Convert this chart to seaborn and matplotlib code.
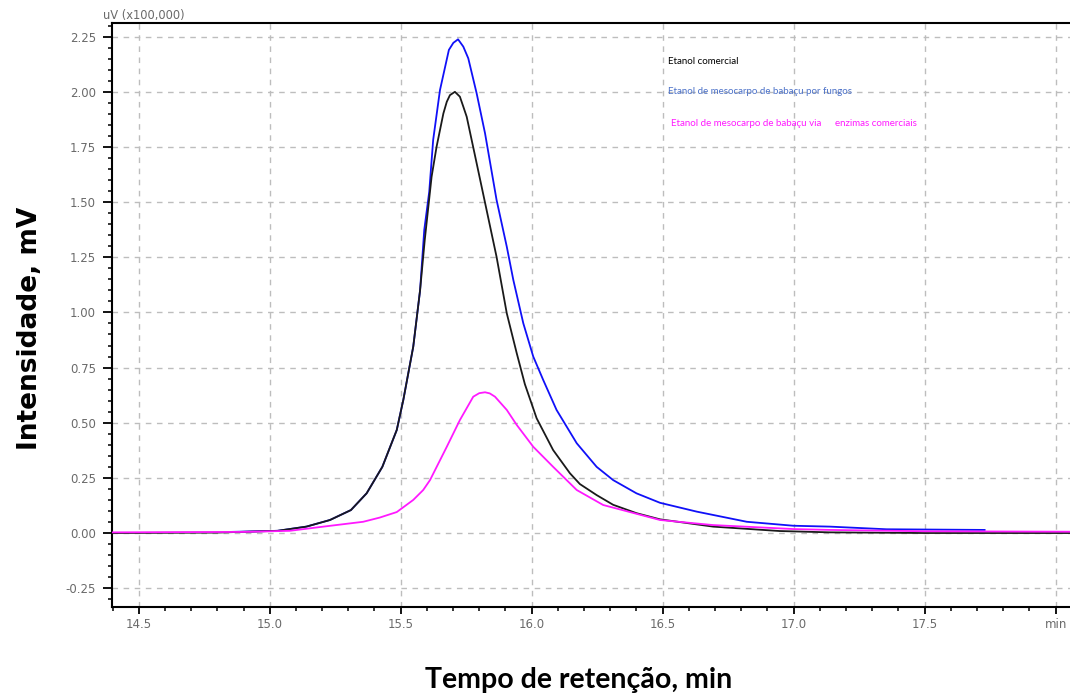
import numpy as np
import pandas as pd
import matplotlib
matplotlib.use("Agg")
import matplotlib.pyplot as plt
import seaborn as sns
from matplotlib.ticker import MultipleLocator, FixedLocator

# ---- data ----
black_name = "Etanol comercial"
blue_name = "Etanol de mesocarpo de babaçu por fungos"
mag_name = "Etanol de mesocarpo de babaçu via enzimas comerciais"

black_x = [14.40, 14.80, 15.03, 15.14, 15.23, 15.31, 15.37, 15.40, 15.43, 15.485, 15.51,
           15.548, 15.574, 15.592, 15.618, 15.637, 15.663, 15.676, 15.688, 15.707, 15.726,
           15.739, 15.752, 15.790, 15.809, 15.828, 15.866, 15.905, 15.943, 15.974, 16.019,
           16.082, 16.146, 16.184, 16.248, 16.311, 16.40, 16.49, 16.693, 16.947, 17.139,
           17.50, 18.055]
black_y = [0.0, 0.002, 0.01, 0.029, 0.059, 0.104, 0.18, 0.24, 0.30, 0.467, 0.603,
           0.845, 1.10, 1.33, 1.615, 1.751, 1.902, 1.955, 1.985, 2.00, 1.978,
           1.933, 1.887, 1.676, 1.570, 1.464, 1.252, 0.996, 0.815, 0.675, 0.520,
           0.376, 0.271, 0.222, 0.172, 0.128, 0.09, 0.062, 0.029, 0.009, 0.003,
           0.0, 0.0]

blue_x = [14.85, 15.03, 15.14, 15.23, 15.31, 15.37, 15.40, 15.43, 15.485, 15.51, 15.548,
          15.574, 15.590, 15.609, 15.624, 15.650, 15.684, 15.701, 15.719, 15.739, 15.758,
          15.790, 15.822, 15.866, 15.905, 15.930, 15.968, 16.006, 16.044, 16.095, 16.172,
          16.248, 16.311, 16.40, 16.49, 16.63, 16.821, 16.999, 17.139, 17.355, 17.73]
blue_y = [0.005, 0.01, 0.029, 0.059, 0.104, 0.18, 0.24, 0.30, 0.467, 0.603, 0.845,
          1.10, 1.374, 1.547, 1.782, 2.008, 2.19, 2.222, 2.238, 2.205, 2.152,
          1.993, 1.812, 1.51, 1.298, 1.147, 0.951, 0.80, 0.694, 0.558, 0.407,
          0.30, 0.24, 0.18, 0.137, 0.097, 0.051, 0.033, 0.029, 0.017, 0.014]

mag_x = [14.40, 14.90, 15.077, 15.205, 15.357, 15.42, 15.485, 15.548, 15.586, 15.612,
         15.676, 15.726, 15.777, 15.800, 15.822, 15.840, 15.860, 15.905, 15.943, 16.006,
         16.082, 16.172, 16.273, 16.337, 16.49, 16.693, 16.999, 17.139, 17.50, 18.055]
mag_y = [0.003, 0.005, 0.01, 0.029, 0.051, 0.07, 0.095, 0.15, 0.195, 0.24,
         0.391, 0.512, 0.618, 0.634, 0.638, 0.633, 0.618, 0.558, 0.49, 0.391,
         0.30, 0.195, 0.127, 0.107, 0.059, 0.036, 0.018, 0.014, 0.008, 0.006]

x_ticks = [14.5, 15.0, 15.5, 16.0, 16.5, 17.0, 17.5, 18.0]
x_tick_labels = ["14.5", "15.0", "15.5", "16.0", "16.5", "17.0", "17.5", "min"]
y_ticks = [-0.25, 0.0, 0.25, 0.5, 0.75, 1.0, 1.25, 1.5, 1.75, 2.0, 2.25]
y_tick_labels = ["-0.25", "0.00", "0.25", "0.50", "0.75", "1.00", "1.25", "1.50", "1.75", "2.00", "2.25"]

df = pd.concat([
    pd.DataFrame({"t": blue_x, "v": blue_y, "s": blue_name}),
    pd.DataFrame({"t": black_x, "v": black_y, "s": black_name}),
    pd.DataFrame({"t": mag_x, "v": mag_y, "s": mag_name}),
], ignore_index=True)

palette = {black_name: "#1a1a1a", blue_name: "#1010F8", mag_name: "#FF19FF"}

sns.set_style("white")
plt.rcParams["font.family"] = ["DejaVu Sans"]

fig = plt.figure(figsize=(10.70, 6.97), dpi=100)
ax = fig.add_axes([112 / 1070, (697 - 606.7) / 697, (1070 - 112) / 1070, (606.7 - 23) / 697])

sns.lineplot(data=df, x="t", y="v", hue="s", hue_order=[blue_name, black_name, mag_name],
             palette=palette, legend=False, linewidth=1.3, ax=ax, sort=True, zorder=3)

ax.set_xlim(14.398, 18.055)
ax.set_ylim(-0.334, 2.312)

ax.xaxis.set_major_locator(FixedLocator(x_ticks))
ax.set_xticklabels(x_tick_labels)
ax.xaxis.set_minor_locator(MultipleLocator(0.1))
ax.yaxis.set_major_locator(FixedLocator(y_ticks))
ax.set_yticklabels(y_tick_labels)
ax.yaxis.set_minor_locator(MultipleLocator(0.05))

ax.tick_params(axis="both", which="major", direction="out", length=5, width=1.3,
               color="black", labelsize=8.5, labelcolor="#6a6a6a", bottom=True, left=True)
ax.tick_params(axis="both", which="minor", direction="out", length=3.2, width=1.1,
               color="black", bottom=True, left=True)
ax.tick_params(axis="x", which="major", pad=3)
ax.tick_params(axis="y", which="major", length=6.5, pad=5)

for side in ["left", "bottom", "top"]:
    ax.spines[side].set_visible(True)
    ax.spines[side].set_color("black")
    ax.spines[side].set_linewidth(1.5)
ax.spines["right"].set_visible(False)

ax.grid(True, which="major", color="#bdbdbd", linestyle=(0, (4, 4)), linewidth=1.0)
ax.set_axisbelow(True)

ax.set_xlabel("")
ax.set_ylabel("")

fig.text(30 / 1070, 1 - 328 / 697, "Intensidade, mV", rotation=90, ha="center", va="center",
         fontsize=19, fontweight="bold", color="black", family=["DejaVu Sans"])
fig.text(579 / 1070, 1 - 680 / 697, "Tempo de retenção, min", ha="center", va="center",
         fontsize=20.5, fontweight="bold", color="black", family=["Lato", "DejaVu Sans"])
fig.text(103 / 1070, 1 - 16 / 697, "uV (x100,000)", ha="left", va="center",
         fontsize=8.3, color="#6a6a6a")

fig.text(668 / 1070, 1 - 62 / 697, "Etanol comercial", ha="left", va="center",
         fontsize=7, color="black", family=["Lato", "DejaVu Sans"])
fig.text(668 / 1070, 1 - 92 / 697, "Etanol de mesocarpo de babaçu por fungos", ha="left", va="center",
         fontsize=7, color="#4a70c8", family=["Lato", "DejaVu Sans"])
fig.text(671 / 1070, 1 - 123 / 697, "Etanol de mesocarpo de babaçu via", ha="left", va="center",
         fontsize=7, color="#FF19FF", family=["Lato", "DejaVu Sans"])
fig.text(835 / 1070, 1 - 123 / 697, "enzimas comerciais", ha="left", va="center",
         fontsize=7, color="#FF19FF", family=["Lato", "DejaVu Sans"])

fig.savefig("out.png", dpi=100)
